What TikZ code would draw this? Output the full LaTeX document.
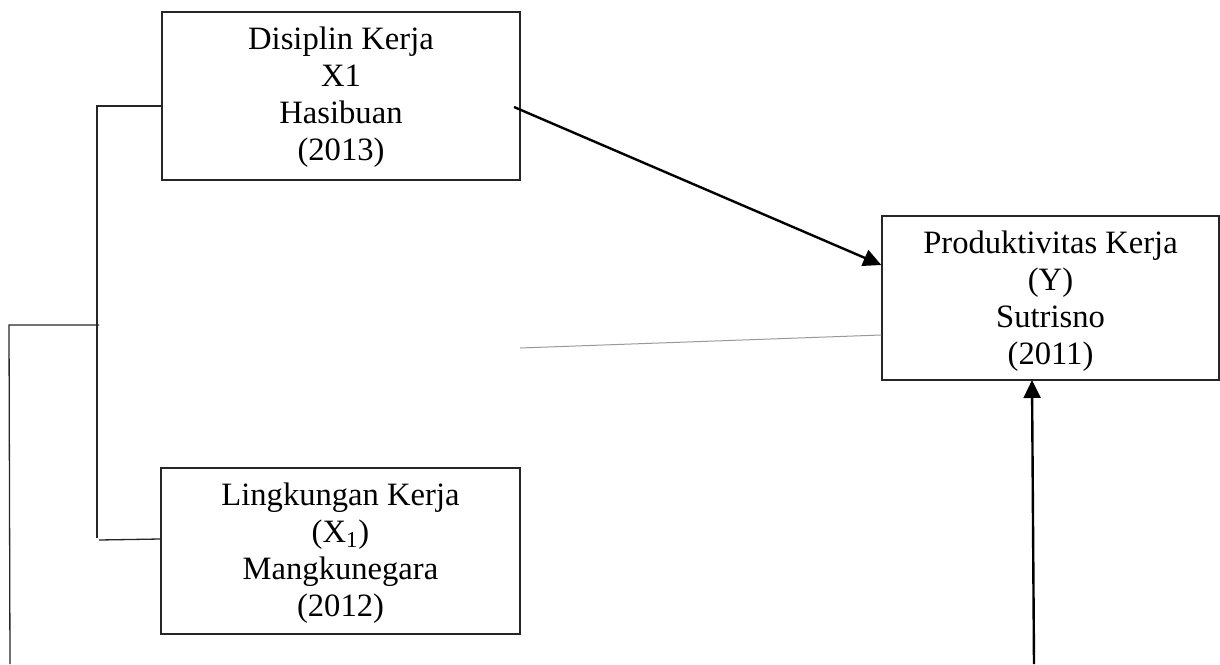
\documentclass[tikz,border=0pt]{standalone}
\usepackage{fontspec}
\setmainfont{Liberation Serif}
\usetikzlibrary{arrows.meta}
\newcommand\boxlines[5][12pt]{\vbox{\baselineskip=18.4pt\lineskiplimit=-100pt\lineskip=0pt
  \halign{\hfil##\hfil\cr\rule{0pt}{#1}#2\cr#3\cr#4\cr#5\cr}}}
\begin{document}
\begin{tikzpicture}[x=0.5pt,y=-0.5pt,
  box/.style={draw=black!85, line width=0.65pt, rectangle, inner sep=0pt,
    font=\fontsize{16.3}{18.4}\selectfont},
  thinline/.style={draw=black!85, line width=0.65pt},
  arrowline/.style={draw=black, line width=1.2pt, -{Triangle[length=9pt,width=8.5pt]}},
  grayline/.style={draw=black!40, line width=0.5pt}]
\useasboundingbox (0,0) rectangle (1220,664);
% boxes
\node[box, minimum width=179pt, minimum height=84pt] (d) at (341,96)
  {\boxlines[12.5pt]{Disiplin Kerja}{X1}{Hasibuan}{(2013)}};
\node[box, minimum width=179.5pt, minimum height=83pt] (l) at (340.5,551)
  {\boxlines[13.5pt]{Lingkungan Kerja}{(X\textsubscript{1})}{Mangkunegara}{(2012)}};
\node[box, minimum width=168.5pt, minimum height=82pt] (p) at (1050.5,298)
  {\boxlines[14.5pt]{Produktivitas Kerja}{(Y)}{Sutrisno}{(2011)}};
% coordinates
\coordinate (a1s) at (514,107);
\coordinate (a1e) at (p.west |- 0,265);
\coordinate (gs) at (520,348);
\coordinate (ge) at (p.west |- 0,335);
\coordinate (vs) at (1034,664);
\coordinate (ve) at (1032,380);
\coordinate (bt) at (97,106);
\coordinate (bb) at (99,540);
\coordinate (bm) at (99,325);
\coordinate (lm) at (9,325);
\coordinate (lb) at (10,664);
% connectors
\draw[arrowline] (a1s) -- (a1e);
\draw[grayline] (gs) -- (ge);
\draw[arrowline] (vs) -- (ve);
\draw[thinline] (d.west |- bt) -- (bt) -- (97,538);
\draw[thinline] (bb) -- (l.west |- 0,539);
\draw[thinline] (bm) -- (lm) -- (lb);
\end{tikzpicture}
\end{document}
